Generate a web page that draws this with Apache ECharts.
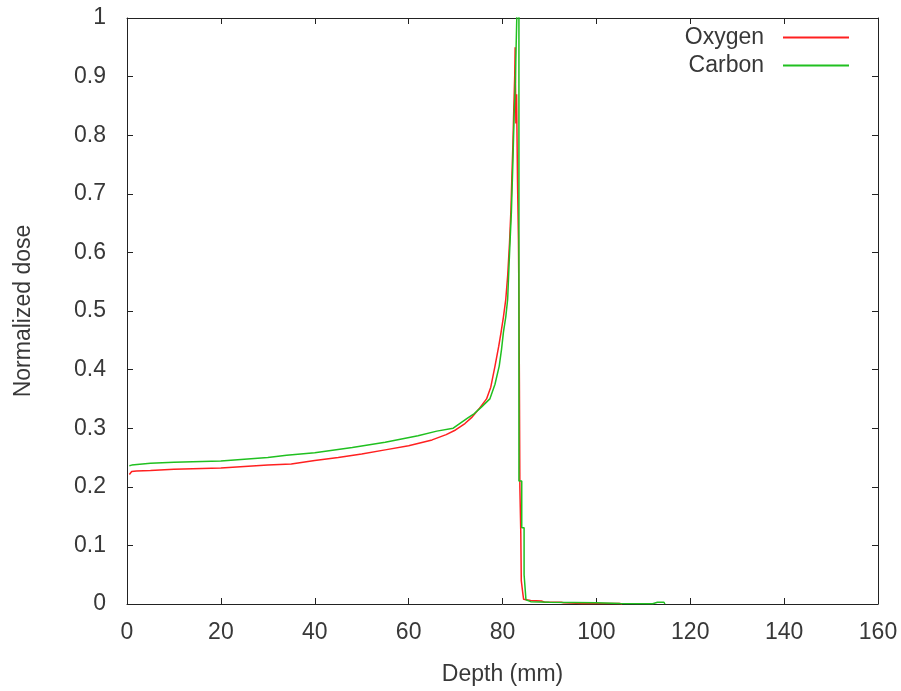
<!DOCTYPE html>
<html>
<head>
<meta charset="utf-8">
<script src="https://cdn.jsdelivr.net/npm/echarts@6/dist/echarts.min.js"></script>
<style>
html,body{margin:0;padding:0;background:#fff;}
#chart{width:901px;height:691px;}
</style>
</head>
<body>
<div id="chart"></div>
<script>
// ---- data ----
const seriesNames = ['Oxygen', 'Carbon'];
const xTicks = [0, 20, 40, 60, 80, 100, 120, 140, 160];
const yTicks = [0, 0.1, 0.2, 0.3, 0.4, 0.5, 0.6, 0.7, 0.8, 0.9, 1];

const oxygenDepth = [0.5, 1, 2, 5, 10, 20, 30, 35, 40, 45, 50, 55, 60, 65, 68, 70, 72, 73.4, 75, 76.6, 77.5, 78.4, 79.2, 79.7, 80.2, 80.7, 81.1, 81.5, 81.8, 82.0, 82.2, 82.4, 82.6, 82.7, 82.85, 83.0, 83.2, 83.4, 83.5, 83.6, 83.7, 83.9, 84.0, 84.3, 84.5, 86, 88.3, 89, 92.5, 93, 97, 105, 105.5];
const oxygenDose  = [0.221, 0.226, 0.227, 0.228, 0.230, 0.232, 0.237, 0.239, 0.245, 0.250, 0.256, 0.263, 0.270, 0.280, 0.289, 0.297, 0.308, 0.318, 0.333, 0.350, 0.370, 0.406, 0.440, 0.464, 0.490, 0.520, 0.560, 0.617, 0.673, 0.730, 0.780, 0.843, 0.900, 0.950, 0.820, 0.870, 0.720, 0.620, 0.520, 0.376, 0.200, 0.120, 0.040, 0.020, 0.008, 0.006, 0.005, 0.003, 0.003, 0.002, 0.001, 0.001, 0];

const carbonDepth = [0.5, 1, 5, 10, 20, 30, 34, 40, 48, 55, 62, 66, 69.5, 72.7, 74, 75.5, 77.3, 78.4, 79.3, 79.8, 80.2, 80.7, 81.1, 81.4, 81.6, 81.9, 82.2, 82.5, 82.7, 82.9, 83.1, 83.3, 83.5, 83.5, 84.1, 84.1, 84.6, 84.6, 85.0, 85.0, 86, 90, 100, 105, 112, 113, 114.4, 114.6];
const carbonDose  = [0.236, 0.237, 0.240, 0.242, 0.244, 0.250, 0.254, 0.258, 0.267, 0.276, 0.287, 0.295, 0.300, 0.318, 0.325, 0.336, 0.350, 0.375, 0.406, 0.435, 0.464, 0.490, 0.520, 0.580, 0.617, 0.670, 0.750, 0.840, 0.880, 0.950, 1.02, 1.05, 1.02, 0.210, 0.210, 0.130, 0.130, 0.050, 0.050, 0.007, 0.004, 0.003, 0.002, 0.001, 0.0005, 0.003, 0.003, 0];

// ---- chart ----
const pair = (xs, ys) => xs.map((x, i) => [x, ys[i]]);
const FONT = '"Liberation Sans", Arial, sans-serif';
const FS = 23;
const TXT = '#383838';
const AX = '#222';

const chart = echarts.init(document.getElementById('chart'), null, {renderer: 'canvas'});

const baseAxis = {
  axisLine: {show: true, onZero: false, lineStyle: {color: AX, width: 1}},
  axisTick: {show: true, inside: true, length: 6, lineStyle: {color: AX, width: 1}},
  splitLine: {show: false}
};

chart.setOption({
  animation: false,
  backgroundColor: '#fff',
  grid: {left: 127, top: 18, width: 751, height: 588, containLabel: false},
  legend: {
    orient: 'vertical',
    align: 'right',
    right: 47,
    top: 21,
    itemWidth: 66,
    itemHeight: 2,
    itemGap: 5,
    icon: 'rect',
    data: seriesNames,
    textStyle: {fontFamily: FONT, fontSize: FS, color: TXT, lineHeight: 23, padding: [0, 14, 0, 0]}
  },
  xAxis: [
    Object.assign({}, baseAxis, {
      type: 'value', position: 'bottom', min: 0, max: 160, interval: 20,
      name: 'Depth (mm)', nameLocation: 'middle', nameGap: 59,
      nameTextStyle: {fontFamily: FONT, fontSize: FS, color: TXT},
      axisLabel: {fontFamily: FONT, fontSize: FS, color: TXT, margin: 17,
        formatter: v => xTicks.includes(v) ? String(v) : ''}
    }),
    Object.assign({}, baseAxis, {
      type: 'value', position: 'top', min: 0, max: 160, interval: 20,
      axisLabel: {show: false}
    })
  ],
  yAxis: [
    Object.assign({}, baseAxis, {
      type: 'value', position: 'left', min: 0, max: 1, interval: 0.1,
      name: 'Normalized dose', nameLocation: 'middle', nameGap: 92, nameRotate: 90,
      nameTextStyle: {fontFamily: FONT, fontSize: FS, color: TXT},
      axisLabel: {fontFamily: FONT, fontSize: FS, color: TXT, margin: 21,
        formatter: v => { const t = yTicks.find(k => Math.abs(k - v) < 1e-9); return t === undefined ? '' : String(t); }}
    }),
    Object.assign({}, baseAxis, {
      type: 'value', position: 'right', min: 0, max: 1, interval: 0.1,
      axisLabel: {show: false}
    })
  ],
  series: [
    {
      name: seriesNames[0], type: 'line', xAxisIndex: 0, yAxisIndex: 0,
      data: pair(oxygenDepth, oxygenDose), showSymbol: false, symbol: 'none',
      clip: true, z: 2,
      lineStyle: {color: '#ff2020', width: 1.5}, itemStyle: {color: '#ff2020'}
    },
    {
      name: seriesNames[1], type: 'line', xAxisIndex: 0, yAxisIndex: 0,
      data: pair(carbonDepth, carbonDose), showSymbol: false, symbol: 'none',
      clip: true, z: 3,
      lineStyle: {color: '#20c020', width: 1.5}, itemStyle: {color: '#20c020'}
    }
  ]
});
</script>
</body>
</html>
